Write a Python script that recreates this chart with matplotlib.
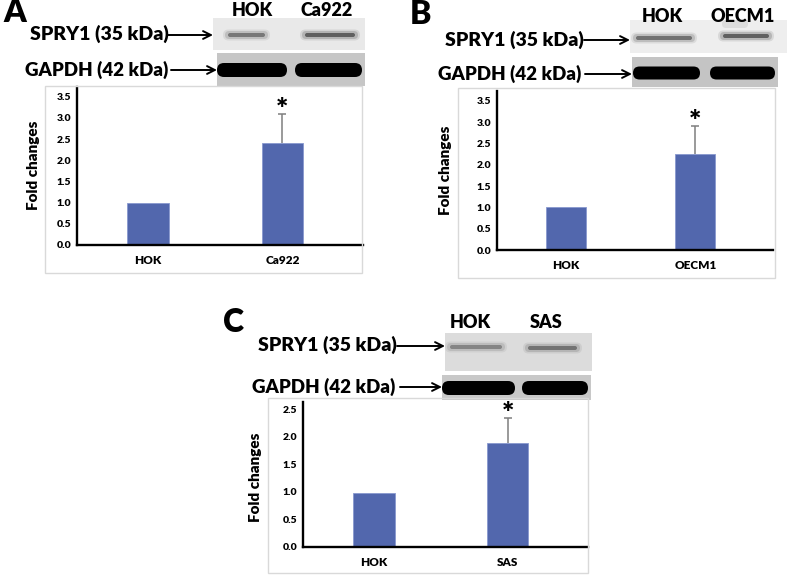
import numpy as np
import matplotlib.pyplot as plt
from matplotlib.patches import Rectangle, FancyBboxPatch, FancyArrowPatch
from matplotlib.transforms import Affine2D

plt.rcParams['font.family'] = ['Lato', 'DejaVu Sans']
WEIGHT = "heavy"

# fold changes
cats_a = ["HOK", "Ca922"]
vals_a = [1.0, 2.40]
err_a = [0.0, 0.69]

cats_b = ["HOK", "OECM1"]
vals_b = [1.0, 2.26]
err_b = [0.0, 0.66]

cats_c = ["HOK", "SAS"]
vals_c = [0.98, 1.88]
err_c = [0.0, 0.46]

yticks_ab = [0.0, 0.5, 1.0, 1.5, 2.0, 2.5, 3.0, 3.5]
yticks_c = [0.0, 0.5, 1.0, 1.5, 2.0, 2.5]

W, H = 787, 576
fig = plt.figure(figsize=(W / 100, H / 100), dpi=100)
# pixel coordinates, origin top-left
px = Affine2D().scale(1 / W, -1 / H).translate(0, 1) + fig.transFigure

BAR = "#5267ad"


def box(x0, y0, x1, y1, **kw):
    fig.add_artist(Rectangle((x0, y0), x1 - x0, y1 - y0, transform=px, **kw))


def band(x0, x1, yc, h, color="black", alpha=1.0):
    fig.add_artist(FancyBboxPatch((x0, yc - h / 2), x1 - x0, h,
                                  boxstyle=f"round,pad=0,rounding_size={h / 2}",
                                  transform=px, facecolor=color, edgecolor="none", alpha=alpha))


def faint_band(x0, x1, yc, strength):
    band(x0 - 2, x1 + 2, yc, 11, "#666666", 0.12 * strength)
    band(x0, x1, yc, 8, "#555555", 0.2 * strength)
    band(x0 + 3, x1 - 3, yc, 4, "#333333", 0.5 * strength)


def arrow(x0, x1, y):
    fig.add_artist(FancyArrowPatch((x0, y), (x1, y), transform=px, arrowstyle="->",
                                   mutation_scale=14, lw=1.4, color="black",
                                   shrinkA=0, shrinkB=0))


def label(x, y, s, size, ha="left", **kw):
    fig.text(x, y, s, transform=px, fontsize=size, fontweight=WEIGHT,
             ha=ha, va="center", **kw)


def chart(ax_px, box_px, cats, vals, errs, ymax, yticks, ylab_xy):
    box(*box_px, fill=False, edgecolor="#d9d9d9", lw=1)
    x0, y0, x1, y1 = ax_px
    ax = fig.add_axes([x0 / W, 1 - y1 / H, (x1 - x0) / W, (y1 - y0) / H])
    ax.patch.set_alpha(0)
    x = np.arange(len(cats))
    ax.bar(x, vals, width=0.31, color=BAR, edgecolor="#8898cf", linewidth=0.6, zorder=2)
    for xi, v, e in zip(x, vals, errs):
        if e > 0:
            ax.vlines(xi, v, v + e, color="#7f7f7f", lw=1.1, zorder=1)
            ax.hlines(v + e, xi - 0.03, xi + 0.03, color="#7f7f7f", lw=1.1, zorder=1)
            ax.annotate("*", (xi, v + e), xytext=(0, -3), textcoords="offset points",
                        ha="center", va="baseline", fontsize=21, fontweight=WEIGHT)
    ax.set_xlim(-0.53, 1.6)
    ax.set_ylim(0, ymax)
    ax.set_xticks(x, cats)
    ax.set_yticks(yticks, [f"{t:.1f}" for t in yticks])
    ax.tick_params(axis="y", length=0, pad=4, labelsize=7.5)
    ax.tick_params(axis="x", length=0, pad=7, labelsize=8.5)
    for t in ax.get_xticklabels() + ax.get_yticklabels():
        t.set_fontweight(WEIGHT)
    for s in ["top", "right"]:
        ax.spines[s].set_visible(False)
    for s in ["left", "bottom"]:
        ax.spines[s].set_linewidth(1.7)
    label(ylab_xy[0], ylab_xy[1], "Fold changes", 11, ha="center", rotation=90)
    return ax


# ---------------- panel A ----------------
label(3, 13, "A", 23)
label(252, 11, "HOK", 13, ha="center")
label(327, 11, "Ca922", 13, ha="center")
label(30, 34, "SPRY1 (35 kDa)", 14)
arrow(168, 213, 35)
label(25, 70, "GAPDH (42 kDa)", 13.5)
arrow(171, 217, 70)
box(213, 18, 365, 50, facecolor="#e9e9e9", edgecolor="none")
faint_band(225, 268, 35, 1.0)
faint_band(302, 358, 35, 1.3)
box(217, 53, 365, 86, facecolor="#c6c6c6", edgecolor="none")
band(217, 287, 70, 14)
band(295, 362, 70, 14)
chart((77, 87, 363, 245), (45, 86, 362, 273), cats_a, vals_a, err_a, 3.73, yticks_ab, (34, 165))

# ---------------- panel B ----------------
label(410, 14, "B", 23)
label(662, 17, "HOK", 13, ha="center")
label(743, 17, "OECM1", 13, ha="center")
label(445, 40, "SPRY1 (35 kDa)", 14)
arrow(584, 630, 40)
label(438, 74, "GAPDH (42 kDa)", 13.5)
arrow(585, 632, 74)
box(630, 20, 787, 53, facecolor="#eeeeee", edgecolor="none")
band(722, 748, 24, 8, "#777777", 0.15)
faint_band(633, 695, 38, 1.1)
faint_band(720, 772, 36, 1.3)
box(632, 57, 778, 87, facecolor="#c4c4c4", edgecolor="none")
band(633, 700, 73, 13)
band(710, 775, 73, 13)
chart((497, 91, 773, 250), (458, 88, 775, 278), cats_b, vals_b, err_b, 3.73, yticks_ab, (446, 170))

# ---------------- panel C ----------------
label(223, 322, "C", 23)
label(470, 322, "HOK", 13, ha="center")
label(546, 322, "SAS", 13, ha="center")
label(258, 345, "SPRY1 (35 kDa)", 14)
arrow(397, 445, 346)
label(252, 387, "GAPDH (42 kDa)", 13.5)
arrow(400, 442, 387)
box(445, 333, 592, 371, facecolor="#dcdcdc", edgecolor="none")
faint_band(447, 505, 347, 0.8)
faint_band(525, 580, 348, 1.0)
box(442, 375, 591, 400, facecolor="#c8c8c8", edgecolor="none")
band(442, 515, 388, 14)
band(522, 588, 388, 14)
chart((303, 402, 588, 547), (268, 398, 588, 573), cats_c, vals_c, err_c, 2.63, yticks_c, (255, 477))

fig.savefig("out.png", dpi=100)
